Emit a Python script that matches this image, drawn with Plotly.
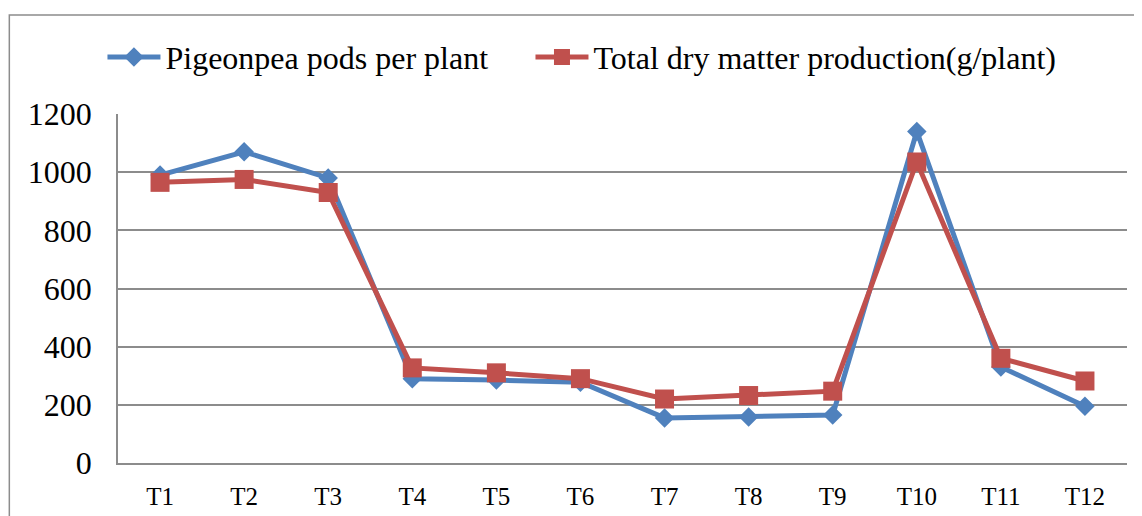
import plotly.graph_objects as go

categories = ["T1", "T2", "T3", "T4", "T5", "T6", "T7", "T8", "T9", "T10", "T11", "T12"]
pods_per_plant = [990, 1070, 980, 290, 285, 278, 155, 158, 165, 1140, 330, 195]
dry_matter = [965, 975, 930, 327, 310, 290, 220, 232, 247, 1035, 360, 282]
y_ticks = [0, 200, 400, 600, 800, 1000, 1200]

BLUE = "#4F81BD"
RED = "#C0504D"
GRID = "#8C8C8C"
FONT = "Liberation Serif, Times New Roman, serif"

fig = go.Figure()
fig.add_trace(go.Scatter(
    x=categories, y=pods_per_plant, mode="lines+markers",
    name="Pigeonpea pods per plant",
    line=dict(color=BLUE, width=5),
    marker=dict(symbol="diamond", size=15, color=BLUE),
    legend="legend",
))
fig.add_trace(go.Scatter(
    x=categories, y=dry_matter, mode="lines+markers",
    name="Total dry matter production(g/plant)",
    line=dict(color=RED, width=5),
    marker=dict(symbol="square", size=19, color=RED),
    legend="legend2",
))

legend_common = dict(
    orientation="h", xanchor="left", y=1.163, yanchor="middle",
    font=dict(size=32, family=FONT, color="black"),
    itemwidth=53, bgcolor="rgba(0,0,0,0)", borderwidth=0,
)

fig.update_layout(
    width=1134, height=508,
    margin=dict(l=110, r=15, t=106, b=53, pad=0, autoexpand=False),
    paper_bgcolor="white", plot_bgcolor="white",
    font=dict(family=FONT, color="black"),
    showlegend=True,
    legend=dict(x=-0.0154, **legend_common),
    legend2=dict(x=0.4088, **legend_common),
    xaxis=dict(
        type="category", range=[-0.5, 11.5],
        showgrid=False, showline=True, linecolor=GRID, linewidth=1.5,
        ticks="", tickfont=dict(size=25, family=FONT, color="black"),
        ticklabelstandoff=10, zeroline=False,
    ),
    yaxis=dict(
        range=[0, 1200], tickvals=y_ticks,
        showgrid=True, gridcolor=GRID, gridwidth=1.5,
        showline=True, linecolor=GRID, linewidth=1.5,
        ticks="", tickfont=dict(size=32, family=FONT, color="black"),
        ticklabelstandoff=18, zeroline=False,
    ),
    shapes=[dict(
        type="rect", xref="paper", yref="paper",
        x0=-0.1077, x1=1.3, y0=-0.6, y1=1.2837,
        line=dict(color=GRID, width=1.5), fillcolor="rgba(0,0,0,0)", layer="below",
    )],
)

fig.write_html("out.html")
